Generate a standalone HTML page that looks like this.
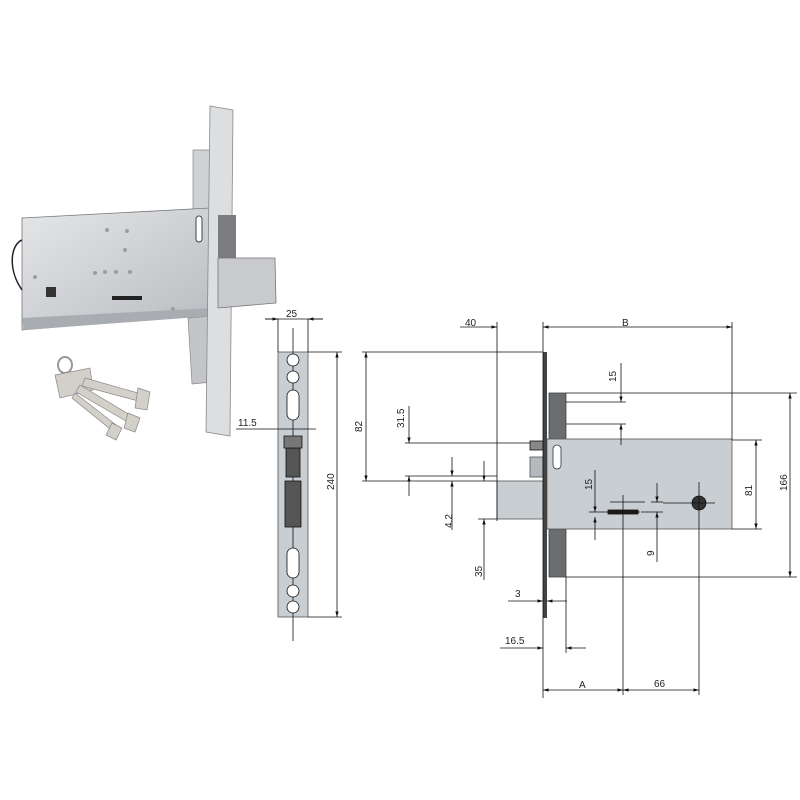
<!DOCTYPE html>
<html><head><meta charset="utf-8"><style>
html,body{margin:0;padding:0;background:#fff}
svg{display:block}
text{font-family:"Liberation Sans",sans-serif;font-size:10px;fill:#222}
</style></head><body>
<svg width="800" height="800" viewBox="0 0 800 800" xmlns="http://www.w3.org/2000/svg">
<defs>
<marker id="a" viewBox="0 0 10 10" refX="10" refY="5" markerWidth="7" markerHeight="7" orient="auto-start-reverse"><path d="M0,2 L10,5 L0,8 z" fill="#111"/></marker>
<linearGradient id="m" x1="0" y1="0" x2="1" y2="1"><stop offset="0" stop-color="#e4e6e8"/><stop offset="1" stop-color="#b9bcc0"/></linearGradient>
</defs>
<!-- photo -->
<polygon points="193,150 212,150 212,208 193,210" fill="#cfd1d3" stroke="#888" stroke-width="0.7"/>
<polygon points="188,318 212,316 212,382 192,384" fill="#c3c5c8" stroke="#888" stroke-width="0.7"/>
<polygon points="22,218 210,208 212,314 22,330" fill="url(#m)" stroke="#777" stroke-width="0.8"/>
<polygon points="22,318 212,308 212,316 24,330" fill="#a9acb0"/>
<path d="M22,240 C10,245 8,270 22,290" stroke="#222" fill="none" stroke-width="1.5"/>
<polygon points="210,106 233,110 230,436 206,432" fill="#dcdee0" stroke="#888" stroke-width="0.8"/>
<polygon points="218,215 236,215 236,258 218,258" fill="#7a7c80"/>
<polygon points="218,258 275,258 276,303 218,308" fill="#c8cacd" stroke="#777" stroke-width="0.8"/>
<rect x="196" y="216" width="6" height="26" rx="3" fill="#fff" stroke="#444"/>
<rect x="46" y="287" width="10" height="10" fill="#333"/>
<rect x="112" y="296" width="30" height="4" fill="#222"/>
<g fill="#9a9da1"><circle cx="107" cy="230" r="2"/><circle cx="127" cy="231" r="2"/><circle cx="125" cy="250" r="2"/><circle cx="95" cy="273" r="2"/><circle cx="105" cy="272" r="2"/><circle cx="116" cy="272" r="2"/><circle cx="130" cy="272" r="2"/><circle cx="35" cy="277" r="2"/><circle cx="173" cy="309" r="2"/></g>
<!-- keys -->
<g fill="#d2d0c8" stroke="#888" stroke-width="0.7">
<ellipse cx="65" cy="365" rx="7" ry="8" fill="none" stroke="#999" stroke-width="2"/>
<polygon points="55,375 90,368 93,390 60,398"/>
<polygon points="85,378 145,395 142,402 82,386"/>
<polygon points="80,385 135,418 131,424 76,392"/>
<polygon points="75,393 120,428 115,433 72,398"/>
<polygon points="138,388 150,392 147,410 135,408"/>
<polygon points="128,413 140,418 135,432 124,428"/>
<polygon points="112,423 122,428 116,440 106,435"/>
</g>
<!-- middle faceplate -->
<g stroke="#111" stroke-width="0.8" fill="none">
<rect x="278" y="352" width="30" height="265" fill="#c9ced3" stroke="#555"/>
<line x1="293" y1="328" x2="293" y2="641"/>
<line x1="265" y1="319" x2="323" y2="319"/>
<line x1="265" y1="319" x2="278" y2="319" marker-end="url(#a)"/>
<line x1="323" y1="319" x2="308" y2="319" marker-end="url(#a)"/>
<line x1="278" y1="319" x2="278" y2="352"/><line x1="308" y1="319" x2="308" y2="352"/>
<line x1="308" y1="352" x2="342" y2="352"/><line x1="308" y1="617" x2="342" y2="617"/>
<line x1="337" y1="352" x2="337" y2="617" marker-start="url(#a)" marker-end="url(#a)"/>
<line x1="236" y1="429" x2="316" y2="429"/>
<circle cx="293" cy="360" r="6" fill="#fff"/><circle cx="293" cy="377" r="6" fill="#fff"/>
<rect x="287" y="390" width="12" height="30" rx="6" fill="#fff"/>
<rect x="286" y="448" width="14" height="29" fill="#555"/>
<path d="M284,436 h18 v12 h-18z" fill="#777"/>
<rect x="285" y="481" width="16" height="46" fill="#555"/>
<rect x="287" y="548" width="12" height="30" rx="6" fill="#fff"/>
<circle cx="293" cy="591" r="6" fill="#fff"/><circle cx="293" cy="607" r="6" fill="#fff"/>
</g>
<text x="286" y="317">25</text>
<text x="238" y="426">11.5</text>
<text transform="translate(334,490) rotate(-90)">240</text>
<!-- right drawing -->
<g stroke="#111" stroke-width="0.8" fill="none">
<rect x="497" y="481" width="46" height="38" fill="#c9ced3" stroke="#555"/>
<rect x="530" y="441" width="13" height="9" fill="#888"/>
<rect x="530" y="457" width="13" height="20" fill="#b5b9bd" stroke="#555"/>
<rect x="549" y="393" width="17" height="47" fill="#6a6d70" stroke="#444"/>
<rect x="549" y="529" width="17" height="48" fill="#6a6d70" stroke="#444"/>
<rect x="547" y="439" width="185" height="90" fill="#c9ced3" stroke="#555"/>
<rect x="543" y="352" width="4" height="266" fill="#444" stroke="none"/>
<rect x="553" y="445" width="8" height="24" rx="4" fill="#fff" stroke="#333"/>
<rect x="608" y="510" width="30" height="4" fill="#222"/>
<circle cx="699" cy="503" r="7" fill="#333"/>
<!-- dim lines -->
<line x1="460" y1="327" x2="497" y2="327" marker-end="url(#a)"/>
<line x1="543" y1="327" x2="732" y2="327" marker-start="url(#a)" marker-end="url(#a)"/>
<line x1="497" y1="322" x2="497" y2="521"/>
<line x1="543" y1="322" x2="543" y2="698"/>
<line x1="732" y1="322" x2="732" y2="440"/>
<line x1="362" y1="352" x2="543" y2="352"/>
<line x1="362" y1="481" x2="497" y2="481"/>
<line x1="366" y1="352" x2="366" y2="481" marker-start="url(#a)" marker-end="url(#a)"/>
<line x1="405" y1="443" x2="530" y2="443"/>
<line x1="405" y1="476" x2="497" y2="476"/>
<line x1="409" y1="406" x2="409" y2="443" marker-end="url(#a)"/>
<line x1="409" y1="496" x2="409" y2="476" marker-end="url(#a)"/>
<line x1="452" y1="457" x2="452" y2="476" marker-end="url(#a)"/>
<line x1="452" y1="530" x2="452" y2="481" marker-end="url(#a)"/>
<line x1="484" y1="461" x2="484" y2="481" marker-end="url(#a)"/>
<line x1="484" y1="580" x2="484" y2="519" marker-end="url(#a)"/>
<line x1="478" y1="519" x2="497" y2="519"/>
<line x1="621" y1="363" x2="621" y2="402" marker-end="url(#a)"/>
<line x1="621" y1="445" x2="621" y2="424" marker-end="url(#a)"/>
<line x1="566" y1="402" x2="626" y2="402"/>
<line x1="566" y1="424" x2="626" y2="424"/>
<line x1="566" y1="393" x2="797" y2="393"/>
<line x1="566" y1="577" x2="797" y2="577"/>
<line x1="790" y1="393" x2="790" y2="577" marker-start="url(#a)" marker-end="url(#a)"/>
<line x1="732" y1="440" x2="762" y2="440"/>
<line x1="732" y1="529" x2="762" y2="529"/>
<line x1="756" y1="440" x2="756" y2="529" marker-start="url(#a)" marker-end="url(#a)"/>
<line x1="595" y1="470" x2="595" y2="512" marker-end="url(#a)"/>
<line x1="595" y1="540" x2="595" y2="517" marker-end="url(#a)"/>
<line x1="589" y1="512" x2="640" y2="512"/>
<line x1="610" y1="502" x2="645" y2="502"/>
<line x1="651" y1="502" x2="663" y2="502"/>
<line x1="663" y1="503" x2="715" y2="503"/>
<line x1="641" y1="512" x2="663" y2="512"/>
<line x1="657" y1="483" x2="657" y2="502" marker-end="url(#a)"/>
<line x1="657" y1="562" x2="657" y2="512" marker-end="url(#a)"/>
<line x1="623" y1="495" x2="623" y2="695"/>
<line x1="699" y1="482" x2="699" y2="695"/>
<line x1="543" y1="690" x2="623" y2="690" marker-start="url(#a)" marker-end="url(#a)"/>
<line x1="623" y1="690" x2="699" y2="690" marker-start="url(#a)" marker-end="url(#a)"/>
<line x1="566" y1="577" x2="566" y2="653"/>
<line x1="508" y1="601" x2="543" y2="601" marker-end="url(#a)"/>
<line x1="567" y1="601" x2="547" y2="601" marker-end="url(#a)"/>
<line x1="500" y1="648" x2="543" y2="648" marker-end="url(#a)"/>
<line x1="586" y1="648" x2="566" y2="648" marker-end="url(#a)"/>
</g>
<text x="465" y="326">40</text>
<text x="622" y="326">B</text>
<text transform="translate(362,432) rotate(-90)">82</text>
<text transform="translate(404,428) rotate(-90)">31.5</text>
<text transform="translate(452,528) rotate(-90)">4.2</text>
<text transform="translate(482,577) rotate(-90)">35</text>
<text transform="translate(616,382) rotate(-90)">15</text>
<text transform="translate(592,490) rotate(-90)">15</text>
<text transform="translate(654,556) rotate(-90)">9</text>
<text transform="translate(752,496) rotate(-90)">81</text>
<text transform="translate(787,491) rotate(-90)">166</text>
<text x="515" y="597">3</text>
<text x="505" y="644">16.5</text>
<text x="579" y="688">A</text>
<text x="654" y="687">66</text>
</svg>
</body></html>
